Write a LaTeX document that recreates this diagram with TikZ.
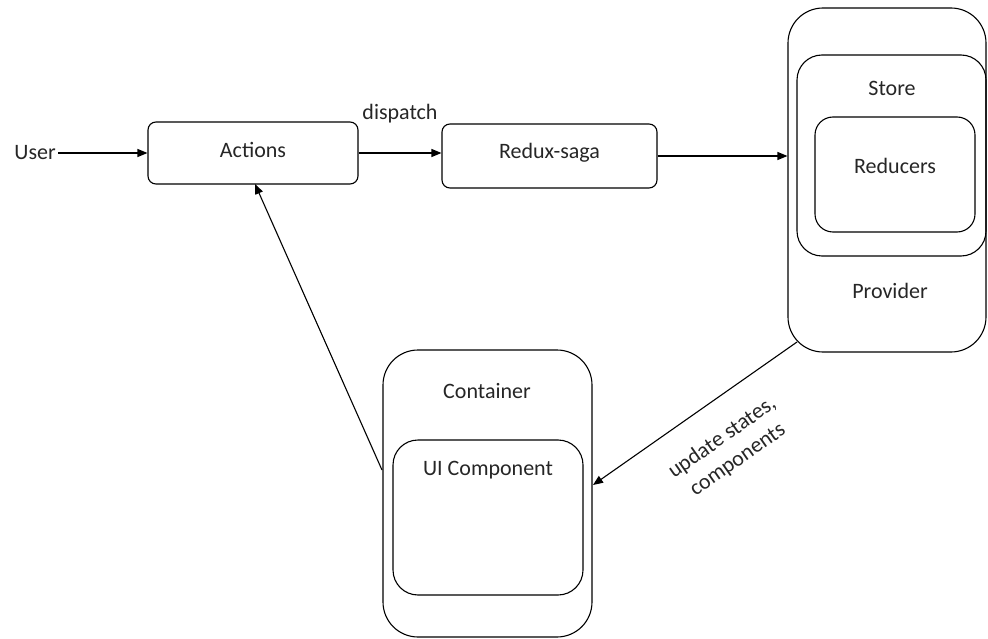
\documentclass[tikz,border=0pt]{standalone}
\usepackage{fontspec}
\setmainfont{Carlito}
\usetikzlibrary{arrows.meta}
\begin{document}
\begin{tikzpicture}[x=1pt,y=-1pt,
  font=\fontsize{22}{26}\selectfont,
  box/.style={draw, line width=1.1pt, inner sep=0pt},
  txt/.style={inner sep=0pt, text=black!85},
  conn/.style={line width=1.1pt, -{Triangle[length=10pt,width=8pt]}}]
\useasboundingbox (0,0) rectangle (988,639);

% flow boxes
\node[box, rounded corners=8pt, minimum width=210pt, minimum height=62pt] (actions) at (253,153) {};
\node[txt] at (253,150) {Actions};
\node[box, rounded corners=8pt, minimum width=215pt, minimum height=64pt] (saga) at (549.5,156) {};
\node[txt] at (549.5,153) {Redux-saga};

% provider / store / reducers
\node[box, rounded corners=35pt, minimum width=198pt, minimum height=344pt] (provider) at (887,180) {};
\node[box, rounded corners=25pt, minimum width=189pt, minimum height=201pt] (store) at (891.5,155.5) {};
\node[box, rounded corners=18pt, minimum width=160pt, minimum height=115pt] (reducers) at (895,174.5) {};
\node[txt] (storelbl) at (892,88) {Store};
\node[txt] (reducerslbl) at (895,166) {Reducers};
\node[txt] (providerlbl) at (890,291) {Provider};

% container / UI component
\node[box, rounded corners=35pt, minimum width=209pt, minimum height=287pt] (container) at (487.5,493.5) {};
\node[box, rounded corners=25pt, minimum width=190pt, minimum height=155pt] (ui) at (488,517.5) {};
\node[txt] (containerlbl) at (487,391) {Container};
\node[txt] (uilbl) at (488,470) {UI Component};

% free labels
\node[txt, anchor=east] (user) at (56,153) {User};
\node[txt] (dispatch) at (400,114) {dispatch};
\node[txt, rotate=35, align=center, font=\fontsize{22}{27}\selectfont] (upd) at (730,449) {update states,\\components};

% connector end points
\coordinate (pout) at (797,342);
\coordinate (cin) at (593,485);
\coordinate (cout) at (382,470);
\coordinate (ain) at (255,184);

% connectors
\draw[conn] (user.east) ++(2,0) -- (actions.west);
\draw[conn] (actions.east) -- (actions.east -| saga.west);
\draw[conn] (saga.east) -- (saga.east -| provider.west);
\draw[conn] (pout) -- (cin);
\draw[conn] (cout) -- (ain);
\end{tikzpicture}
\end{document}
